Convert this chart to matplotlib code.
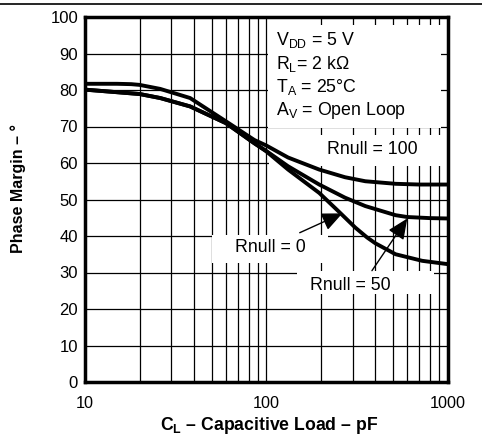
import matplotlib
matplotlib.use("Agg")
import matplotlib.pyplot as plt
from matplotlib.patches import Rectangle
from matplotlib.lines import Line2D
from matplotlib.ticker import LogLocator, NullFormatter, FixedLocator

plt.rcParams['font.family'] = ['Liberation Sans', 'DejaVu Sans']
plt.rcParams['mathtext.fontset'] = 'custom'
plt.rcParams['mathtext.rm'] = 'Liberation Sans'
plt.rcParams['mathtext.it'] = 'Liberation Sans:italic'
plt.rcParams['mathtext.bf'] = 'Liberation Sans:bold'

# ---- data ----
c_r100 = [10, 15, 18, 20, 26, 38, 60, 86, 100, 132, 196, 272, 352, 517, 700, 1000]
pm_r100 = [81.7, 81.7, 81.6, 81.4, 80.3, 77.8, 71.4, 66.3, 64.8, 61.5, 58.2, 56.1, 55.0, 54.3, 54.1, 54.1]

c_r50 = [10, 20, 26, 38, 60, 86, 100, 132, 196, 272, 352, 517, 600, 800, 1000]
pm_r50 = [80.1, 78.9, 77.8, 75.5, 70.9, 65.4, 63.3, 59.1, 54.1, 50.5, 48.2, 45.7, 45.2, 44.9, 44.8]

c_r0 = [10, 20, 26, 38, 60, 86, 100, 132, 196, 250, 310, 360, 400, 517, 725, 1000]
pm_r0 = [80.1, 78.9, 77.8, 75.5, 70.9, 65.4, 63.2, 58.2, 51.8, 46.8, 42.3, 39.6, 38.0, 35.0, 33.2, 32.3]

x_ticks = [10, 100, 1000]
x_ticklabels = ['10', '100', '1000']
y_ticks = list(range(0, 101, 10))

cond_lines = [r'$\mathregular{V_{DD}}$ = 5 V', r'$\mathregular{R_L}$= 2 kΩ',
              r'$\mathregular{T_A}$ = 25°C', r'$\mathregular{A_V}$ = Open Loop']

# ---- figure ----
W, H = 482, 437
fig = plt.figure(figsize=(W / 100, H / 100), dpi=100)
ax = fig.add_axes([85 / W, 1 - 382 / H, 362.5 / W, 365 / H])

ax.set_xscale('log')
ax.set_xlim(10, 1000)
ax.set_ylim(0, 100)

ax.xaxis.set_major_locator(FixedLocator(x_ticks))
ax.set_xticklabels(x_ticklabels)
ax.xaxis.set_minor_locator(LogLocator(base=10, subs=range(2, 10)))
ax.xaxis.set_minor_formatter(NullFormatter())
ax.set_yticks(y_ticks)
ax.tick_params(which='both', length=0)
ax.tick_params(axis='x', pad=10, labelsize=11.7)
ax.tick_params(axis='y', pad=5, labelsize=12)

ax.grid(which='both', color='black', lw=0.9, zorder=0.5)
ax.set_axisbelow(True)
for s in ax.spines.values():
    s.set_linewidth(2.5)
    s.set_zorder(5)

# white masks behind texts
masks = [
    (101.7, 918, 69.6, 97.7),   # conditions
    (104, 990, 59.3, 67.7),     # Rnull = 100
    (50, 219, 32.6, 40.2),      # Rnull = 0
    (147, 839, 24.2, 30.5),     # Rnull = 50
]
for x0, x1, y0, y1 in masks:
    ax.add_patch(Rectangle((x0, y0), x1 - x0, y1 - y0, facecolor='white',
                           edgecolor='none', zorder=1))

for c, pm in [(c_r100, pm_r100), (c_r50, pm_r50), (c_r0, pm_r0)]:
    ax.plot(c, pm, color='black', lw=2.8, zorder=3, solid_joinstyle='round',
            solid_capstyle='butt')

# condition text
cond_y = [92.2, 85.8, 79.5, 73.2]
for t, yy in zip(cond_lines, cond_y):
    ax.text(112.6, yy, t, fontsize=12.8, ha='left', va='baseline', zorder=4)

ax.text(385, 63.6, 'Rnull = 100', fontsize=12.8, ha='center', va='center', zorder=4)
ax.text(105.6, 36.9, 'Rnull = 0', fontsize=12.8, ha='center', va='center', zorder=4)
ax.text(290, 26.4, 'Rnull = 50', fontsize=12.8, ha='center', va='center', zorder=4)

arrow = dict(arrowstyle='-|>,head_length=0.9,head_width=0.4', color='black',
             lw=1.0, mutation_scale=14, shrinkA=0, shrinkB=0)
ax.annotate('', xy=(263, 46.2), xytext=(153, 40.9), arrowprops=arrow, zorder=4)
ax.annotate('', xy=(600, 44.8), xytext=(383, 30.5), arrowprops=arrow, zorder=4)

ax.set_xlabel(r'$\mathbf{C_L}$ – Capacitive Load – pF', fontsize=12.7, fontweight='bold')
ax.xaxis.set_label_coords(0.508, -0.090)
ax.set_ylabel('Phase Margin – °', fontsize=11.5, fontweight='bold')
ax.yaxis.set_label_coords(-0.164, 0.53)

fig.add_artist(Line2D([0, 1], [1 - 4 / H, 1 - 4 / H], color='black', lw=1.2,
                      transform=fig.transFigure))

fig.savefig('out.png', dpi=100)
